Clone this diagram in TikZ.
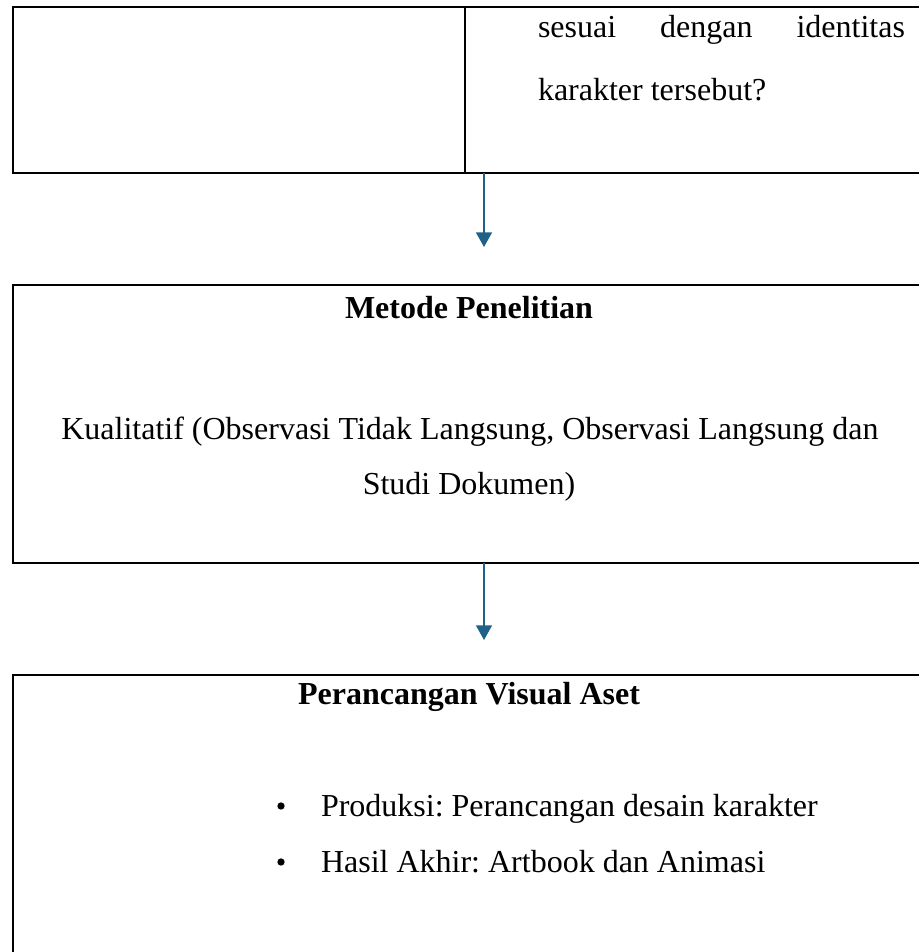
\documentclass[tikz,border=0pt]{standalone}
\usepackage{fontspec}
\setmainfont{Liberation Serif}
\usetikzlibrary{arrows.meta}
\definecolor{arrblue}{RGB}{31,97,137}
\frenchspacing
\begin{document}
\begin{tikzpicture}[x=0.75pt,y=-0.75pt,
  box/.style={draw=black, line width=1.6pt, inner sep=0pt, outer sep=0pt, anchor=north west, rectangle},
  txt/.style={font=\fontsize{24}{41}\selectfont, inner sep=0pt, outer sep=0pt, anchor=base},
  txtb/.style={txt, font=\fontsize{24}{41}\selectfont\bfseries},
  bul/.style={circle, fill=black, inner sep=0pt, minimum size=5.5pt},
  arr/.style={draw=arrblue, line width=1.1pt, -{Triangle[width=12pt,length=11pt]}}]
\useasboundingbox (0,0) rectangle (919,952);
\clip (0,0) rectangle (919,952);
% boxes
\node[box, minimum width=691.5pt, minimum height=124.5pt] (top) at (13,7) {};
\node[box, minimum width=691.5pt, minimum height=208.5pt] (met) at (13,285) {};
\node[box, minimum width=691.5pt, minimum height=243.75pt] (per) at (13,675) {};
% divider in top box
\coordinate (d) at (465,7);
\draw[line width=1.5pt] (top.north -| d) -- (top.south -| d);
% arrows
\coordinate (t1) at (484,247);
\coordinate (t2) at (484,640);
\draw[arr] (top.south -| t1) -- (t1);
\draw[arr] (met.south -| t2) -- (t2);
% texts
\node[txt, anchor=base west] (l1) at (538,38) {\makebox[275.25pt][s]{sesuai dengan identitas}};
\node[txt, anchor=base west] (l2) at (538,101) {karakter tersebut?};
\node[txtb] (h1) at (469,318) {Metode Penelitian};
\node[txt] (k1) at (470,439) {Kualitatif (Observasi Tidak Langsung, Observasi Langsung dan};
\node[txt] (k2) at (469,494) {Studi Dokumen)};
\node[txtb] (h2) at (469,704) {Perancangan Visual Aset};
\node[bul] (b1) at (281,806) {};
\node[txt, anchor=base west] (p1) at (321,816) {Produksi: Perancangan desain karakter};
\node[bul] (b2) at (281,862) {};
\node[txt, anchor=base west] (p2) at (321,872) {Hasil Akhir: Artbook dan Animasi};
\end{tikzpicture}
\end{document}
